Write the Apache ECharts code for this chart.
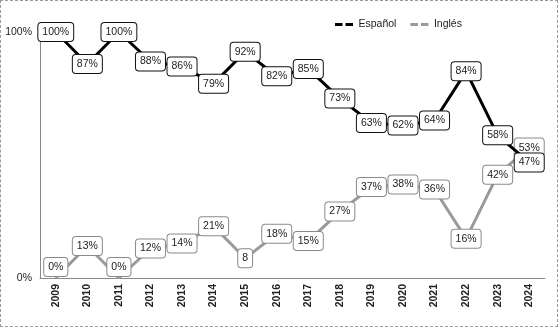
<!DOCTYPE html>
<html>
<head>
<meta charset="utf-8">
<script src="https://cdn.jsdelivr.net/npm/echarts@6/dist/echarts.min.js"></script>
<style>
html,body{margin:0;padding:0;background:#fff;}
#c{width:558px;height:327px;box-sizing:border-box;border:1px dashed #9a9a9a;}
</style>
</head>
<body>
<div id="c"></div>
<script>
const years = ['2009','2010','2011','2012','2013','2014','2015','2016','2017','2018','2019','2020','2021','2022','2023','2024'];
const espanol = [100,87,100,88,86,79,92,82,85,73,63,62,64,84,58,47];
const ingles = [0,13,0,12,14,21,8,18,15,27,37,38,36,16,42,53];
const espanolLabels = ['100%','87%','100%','88%','86%','79%','92%','82%','85%','73%','63%','62%','64%','84%','58%','47%'];
const inglesLabels = ['0%','13%','0%','12%','14%','21%','8','18%','15%','27%','37%','38%','36%','16%','42%','53%'];
const yTicks = {0:'0%',100:'100%'};

const FONT = 'Liberation Sans, Arial, sans-serif';
function mkData(vals, labels){
  return vals.map((v,i)=>{
    const d = {value:v, label:{formatter:labels[i]}};
    if (v === 0) d.label.offset = [0,-11];
    return d;
  });
}
const dashIcon = 'path://M0,0 H10 V4 H0 Z M14,0 H24 V4 H14 Z';
const chart = echarts.init(document.getElementById('c'));
chart.setOption({
  animation:false,
  grid:{left:39,right:12,top:31,bottom:48},
  legend:{
    left:329, top:13, itemGap:14, itemWidth:25, itemHeight:3,
    textStyle:{fontFamily:FONT,fontSize:10.5,color:'#222',padding:[0,0,0,-3]},
    data:[{name:'Español',icon:dashIcon},{name:'Inglés',icon:dashIcon}]
  },
  xAxis:{
    type:'category', data:years, boundaryGap:true,
    axisLine:{lineStyle:{color:'#888',width:1}},
    axisTick:{show:false},
    axisLabel:{rotate:90, fontFamily:FONT, fontSize:10.5, fontWeight:'bold', color:'#222', margin:6}
  },
  yAxis:{
    type:'value', min:0, max:100, interval:100,
    axisLine:{show:true,lineStyle:{color:'#888',width:1}},
    axisTick:{show:false},
    splitLine:{show:false},
    axisLabel:{fontFamily:FONT,fontSize:10.5,color:'#222',margin:8,formatter:v=>yTicks[v]}
  },
  series:[
    {
      name:'Inglés', type:'line', data:mkData(ingles,inglesLabels),
      symbol:'circle', symbolSize:0, showSymbol:true,
      lineStyle:{color:'#9a9a9a',width:3}, itemStyle:{color:'#9a9a9a'},
      label:{show:true,position:'inside',fontFamily:FONT,fontSize:10.5,color:'#222',
        backgroundColor:'#fff',borderColor:'#8a8a8a',borderWidth:1,borderRadius:3,padding:[4,4,3,4]},
      emphasis:{disabled:true},
      z:2
    },
    {
      name:'Español', type:'line', data:mkData(espanol,espanolLabels),
      symbol:'circle', symbolSize:0, showSymbol:true,
      lineStyle:{color:'#000',width:3}, itemStyle:{color:'#000'},
      label:{show:true,position:'inside',fontFamily:FONT,fontSize:10.5,color:'#222',
        backgroundColor:'#fff',borderColor:'#111',borderWidth:1,borderRadius:3,padding:[4,4,3,4]},
      emphasis:{disabled:true},
      z:3
    }
  ]
});
</script>
</body>
</html>
